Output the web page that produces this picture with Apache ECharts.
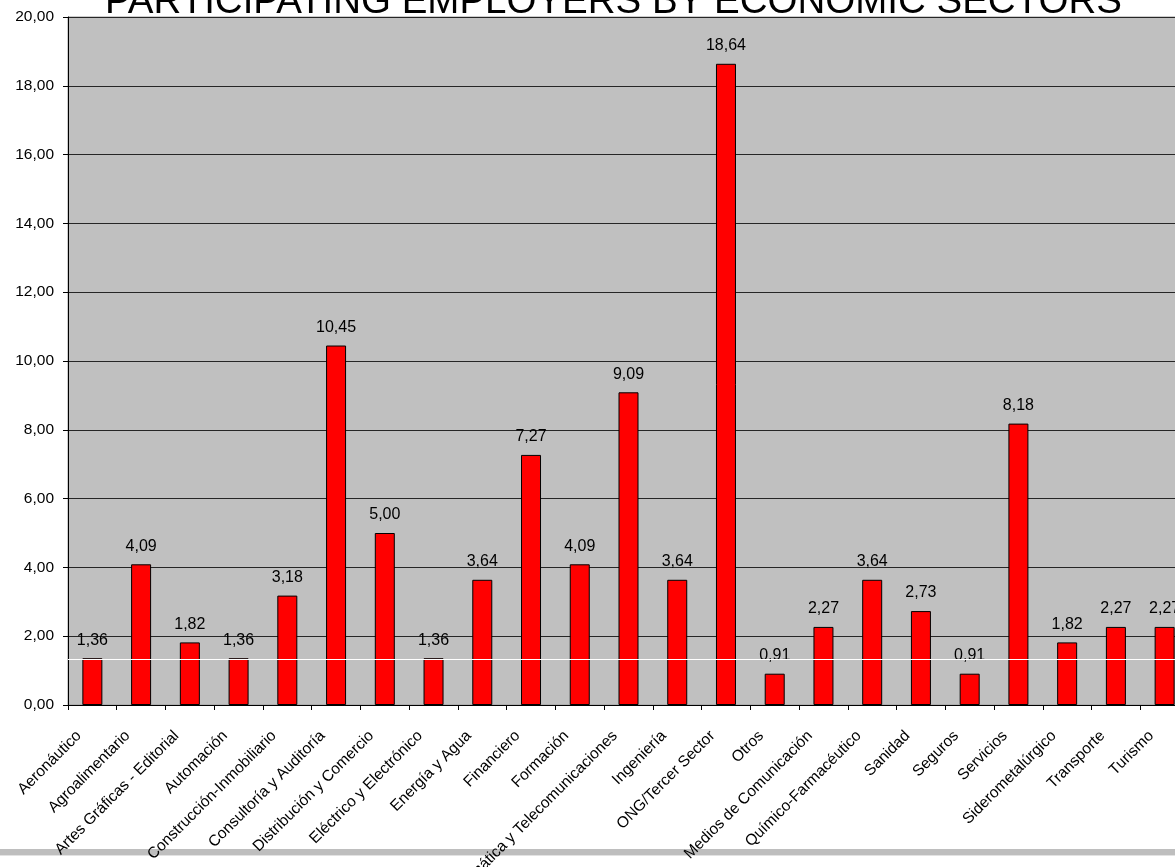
<!DOCTYPE html>
<html>
<head>
<meta charset="utf-8">
<script src="https://cdn.jsdelivr.net/npm/echarts@6/dist/echarts.min.js"></script>
<style>
  html, body { margin: 0; padding: 0; background: #ffffff; }
  #chart { width: 1175px; height: 867px; }
</style>
</head>
<body>
<div id="chart"></div>
<script>
const titleText = 'PARTICIPATING EMPLOYERS BY ECONOMIC SECTORS';
const categories = [
  'Aeronáutico', 'Agroalimentario', 'Artes Gráficas - Editorial', 'Automación',
  'Construcción-Inmobiliario', 'Consultoría y Auditoría', 'Distribución y Comercio',
  'Eléctrico y Electrónico', 'Energía y Agua', 'Financiero', 'Formación',
  'Informática y Telecomunicaciones', 'Ingeniería', 'ONG/Tercer Sector', 'Otros',
  'Medios de Comunicación', 'Químico-Farmacéutico', 'Sanidad', 'Seguros',
  'Servicios', 'Siderometalúrgico', 'Transporte', 'Turismo'
];
const values = [
  1.36, 4.09, 1.82, 1.36, 3.18, 10.45, 5.00, 1.36, 3.64, 7.27, 4.09,
  9.09, 3.64, 18.64, 0.91, 2.27, 3.64, 2.73, 0.91, 8.18, 1.82, 2.27, 2.27
];
const yMin = 0, yMax = 20, yInterval = 2;
const whiteLineValue = 1.33;

const fmt = v => Number(v).toFixed(2).replace('.', ',');
const FONT = 'Liberation Sans, Arial, sans-serif';

const chart = echarts.init(document.getElementById('chart'), null, { renderer: 'canvas' });
chart.setOption({
  animation: false,
  backgroundColor: '#ffffff',
  title: {
    text: titleText,
    left: 100,
    top: -22,
    textStyle: { fontFamily: FONT, fontSize: 38.5, fontWeight: 'normal', color: '#000' }
  },
  grid: {
    left: 68, top: 17, width: 1121, height: 688,
    outerBoundsMode: 'none', containLabel: false,
    show: true, backgroundColor: '#C0C0C0', borderColor: '#9a9a9a', borderWidth: 1
  },
  graphic: [
    { type: 'rect', z: -10, shape: { x: 0, y: 849, width: 1175, height: 6 },
      style: { fill: '#BEBEBE' } },
    { type: 'rect', z: -10, shape: { x: 0, y: 855, width: 1175, height: 1 },
      style: { fill: '#E2E2E2' } }
  ],
  xAxis: {
    type: 'category',
    data: categories,
    boundaryGap: true,
    axisLine: { lineStyle: { color: '#000', width: 1 } },
    axisTick: { show: true, length: 5, lineStyle: { color: '#000' } },
    axisLabel: {
      interval: 0, rotate: 45, margin: 15,
      padding: [0, 19, 0, 0],
      fontFamily: FONT, fontSize: 15.5, color: '#000'
    },
    splitLine: { show: false }
  },
  yAxis: {
    type: 'value', min: yMin, max: yMax, interval: yInterval,
    axisLine: { show: true, lineStyle: { color: '#000', width: 1 } },
    axisTick: { show: true, length: 5, lineStyle: { color: '#000' } },
    axisLabel: { margin: 14, fontFamily: FONT, fontSize: 15.5, color: '#000', formatter: fmt },
    splitLine: { show: true, lineStyle: { color: '#262626', width: 1 } }
  },
  series: [
    {
      type: 'line', data: [], z: 1, silent: true,
      markLine: {
        silent: true, symbol: 'none', animation: false,
        label: { show: false },
        lineStyle: { color: '#ffffff', width: 1, type: 'solid' },
        data: [{ yAxis: whiteLineValue }]
      }
    },
    {
      type: 'bar', data: values, z: 2, barWidth: 20,
      itemStyle: { color: '#FF0000', borderColor: '#000', borderWidth: 1 },
      label: {
        show: true, position: 'top', distance: 10,
        fontFamily: FONT, fontSize: 16, color: '#000',
        formatter: p => fmt(p.value)
      }
    }
  ]
});
</script>
</body>
</html>
